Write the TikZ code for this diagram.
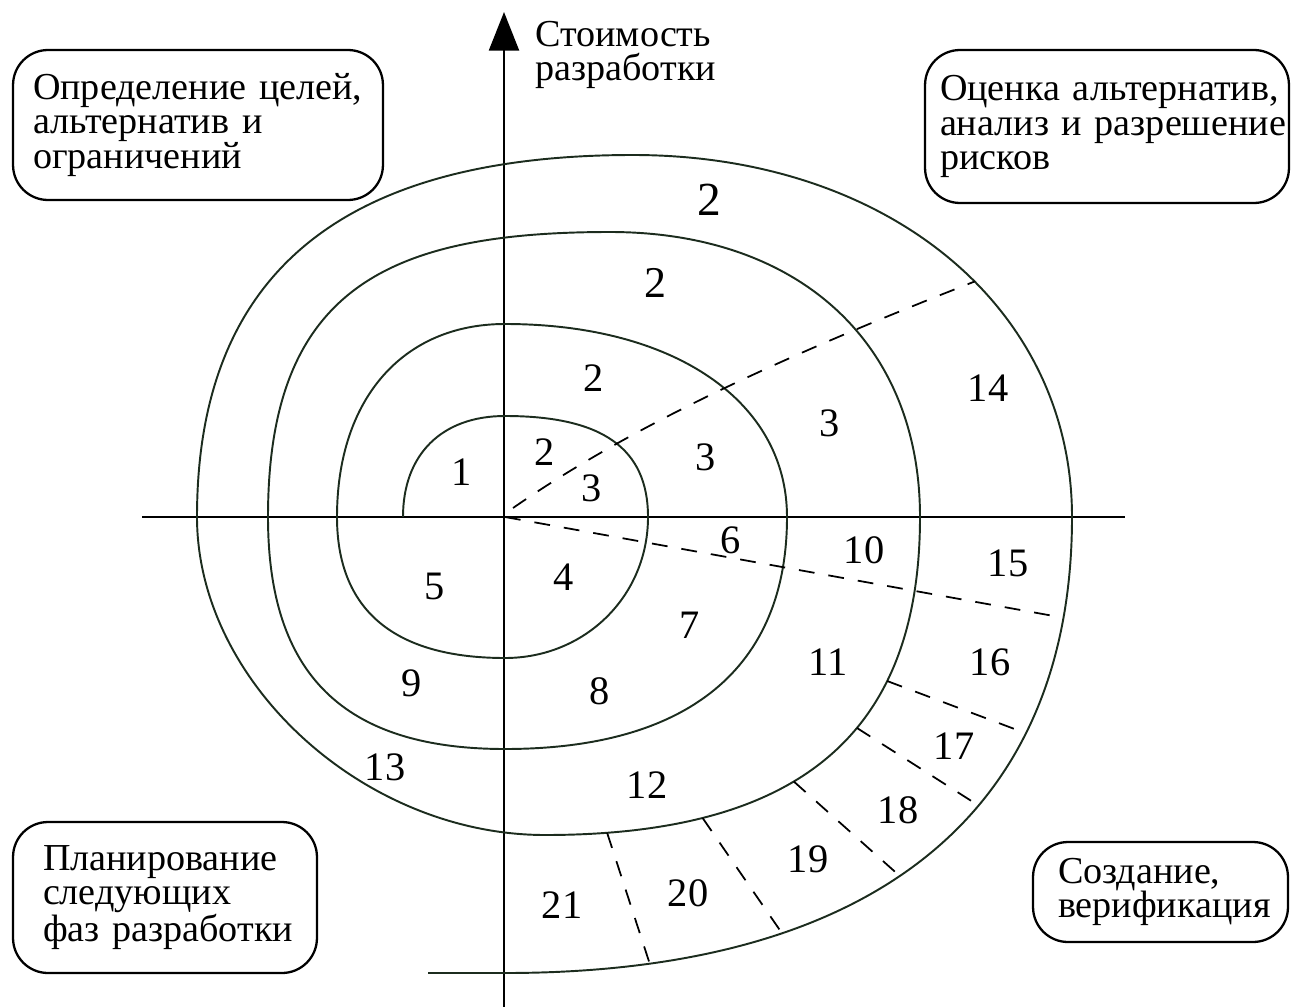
\documentclass[tikz,border=0pt]{standalone}
\usepackage{fontspec}
\setmainfont{Liberation Serif}
\usetikzlibrary{arrows.meta}
\definecolor{spiralcol}{RGB}{28,44,30}
\begin{document}
\lineskiplimit=-30pt
\begin{tikzpicture}[x=0.02cm,y=-0.02cm,
  axis/.style={line width=1.6pt, black},
  spiral/.style={line width=1.1pt, spiralcol},
  sector/.style={line width=1.0pt, black, dash pattern=on 9pt off 8pt},
  label text/.style={font=\fontsize{21.7pt}{19.5pt}\selectfont},
  phase/.style={draw, line width=1.3pt, rounded corners=0.7cm, align=left,
    label text, inner ysep=0pt},
  num/.style={font=\fontsize{23pt}{24pt}\selectfont, inner sep=0pt}]
\useasboundingbox (0,0) rectangle (1291,1007);

% axes
\coordinate (xl) at (142,517);
\coordinate (xr) at (1125,517);
\coordinate (yb) at (504,1007);
\coordinate (yt) at (504,12);
\draw[axis] (xl) -- (xr);
\draw[axis, -{Triangle[length=22pt, width=17pt]}] (yb) -- (yt);
\node[align=left, label text, inner sep=0pt, anchor=west]
  (cost) at (535,55) {Стоимость\\разработки};

% the spiral, one quarter turn per segment
\draw[spiral] (403,517)
  .. controls (403,454.4) and (441.8,416) .. (505,416)
  .. controls (602.2,416) and (648,448.3) .. (648,517)
  .. controls (648,596) and (585.1,658) .. (505,658)
  .. controls (394.1,658) and (337,610.1) .. (337,517)
  .. controls (337,399.3) and (402.5,324) .. (505,324)
  .. controls (674.2,324) and (787,401.2) .. (787,517)
  .. controls (787,667.8) and (688.3,749) .. (505,749)
  .. controls (343.8,749) and (268,674.8) .. (268,517)
  .. controls (268,289) and (387.7,232) .. (610,232)
  .. controls (799.1,232) and (920,343.2) .. (920,517)
  .. controls (920,733.2) and (800,835) .. (545,835)
     coordinate[pos=0.3] (a1) coordinate[pos=0.415] (b1)
     coordinate[pos=0.585] (c1) coordinate[pos=0.765] (d1)
     coordinate[pos=0.915] (e1)
  .. controls (364,835) and (197,682.4) .. (197,517)
  .. controls (197,274.5) and (340.9,155) .. (633,155)
  .. controls (887.6,155) and (1072,307) .. (1072,517)
     coordinate[pos=0.56] (u1)
  .. controls (1072,813.4) and (873.6,973) .. (505,973)
     coordinate[pos=0.12] (u2)
     coordinate[pos=0.28] (a2) coordinate[pos=0.4] (b2)
     coordinate[pos=0.545] (c2) coordinate[pos=0.71] (d2)
     coordinate[pos=0.86] (e2)
  -- (428,973);

% sector boundaries
\coordinate (o1) at (513,508);
\coordinate (o2) at (505,517);
\draw[sector] (o1) .. controls (640,420) and (800,350) .. (u1);
\draw[sector] (o2) -- (u2);
\draw[sector] (a1) -- (a2);
\draw[sector] (b1) -- (b2);
\draw[sector] (c1) -- (c2);
\draw[sector] (d1) -- (d2);
\draw[sector] (e1) -- (e2);

% region numbers
\node[num] (n1)  at (462,472) {1};
\node[num] (n2a) at (545,452) {2};
\node[num] (n3a) at (592,488) {3};
\node[num] (n2b) at (594,378) {2};
\node[num] (n3b) at (706,457) {3};
\node[num, font=\fontsize{25pt}{26pt}\selectfont] (n2c) at (655,283) {2};
\node[num] (n3c) at (830,423) {3};
\node[num, font=\fontsize{27pt}{28pt}\selectfont] (n2d) at (709,200) {2};
\node[num] (n14) at (988,388) {14};
\node[num] (n4)  at (564,577) {4};
\node[num] (n5)  at (435,586) {5};
\node[num] (n6)  at (731,540) {6};
\node[num] (n7)  at (690,625) {7};
\node[num] (n8)  at (600,691) {8};
\node[num] (n9)  at (412,683) {9};
\node[num] (n10) at (864,550) {10};
\node[num] (n11) at (828,662) {11};
\node[num] (n12) at (647,785) {12};
\node[num] (n13) at (385,767) {13};
\node[num] (n15) at (1008,563) {15};
\node[num] (n16) at (990,662) {16};
\node[num] (n17) at (954,746) {17};
\node[num] (n18) at (898,810) {18};
\node[num] (n19) at (808,859) {19};
\node[num] (n20) at (688,893) {20};
\node[num] (n21) at (562,905) {21};

% phase boxes
\node[phase, minimum width=7.4cm, minimum height=3.0cm, inner xsep=0.4cm, text width=6.6cm]
  (goals) at (198,125) {Определение~целей,\\альтернатив~и\\ограничений};
\node[phase, minimum width=7.28cm, minimum height=3.06cm, inner xsep=0.3cm, text width=6.68cm]
  (risks) at (1107,126.5) {Оценка~альтернатив,\\анализ~и~разрешение\\рисков};
\node[phase, minimum width=6.08cm, minimum height=3.02cm, inner xsep=0.6cm, text width=4.88cm]
  (plan) at (165,897.5) {Планирование\\следующих\\фаз~разработки};
\node[phase, minimum width=5.1cm, minimum height=2.0cm, inner xsep=0.5cm, text width=4.1cm]
  (build) at (1160.5,892) {Создание,\\верификация};
\end{tikzpicture}
\end{document}
